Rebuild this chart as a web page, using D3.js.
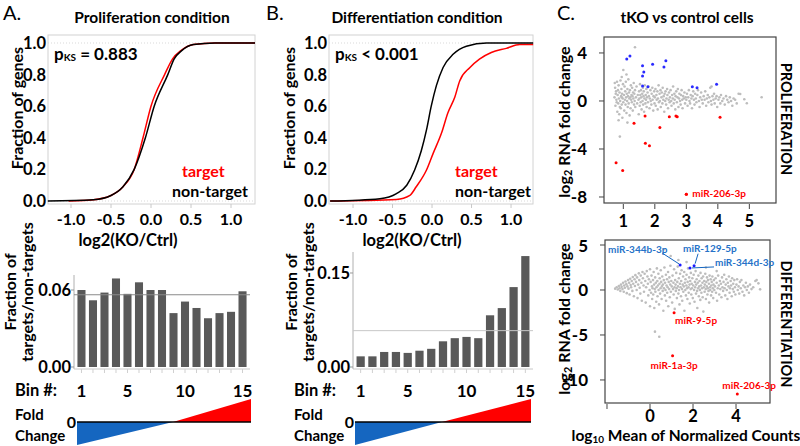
<!DOCTYPE html>
<html>
<head>
<meta charset="utf-8">
<script src="https://cdn.jsdelivr.net/npm/d3@7"></script>
<style>
  body { margin: 0; background: #fff; }
  svg text { font-family: Lato, "Open Sans", sans-serif; font-weight: 700; fill: #000; }
</style>
</head>
<body>
<svg id="fig" width="800" height="446"></svg>
<script>
// ---- data ----
const ecdfXTicks = [-1.0, -0.5, 0.0, 0.5, 1.0];
const ecdfYTicks = [0.0, 0.2, 0.4, 0.6, 0.8, 1.0];

// cumulative fraction curves [log2(KO/Ctrl), fraction]
const prolifNonTarget = [[-1.29,0],[-0.72,0.008],[-0.5,0.035],[-0.35,0.09],[-0.21,0.2],[-0.07,0.4],[0.04,0.6],[0.21,0.8],[0.29,0.9],[0.38,0.95],[0.53,0.99],[0.8,1],[1.3,1]];
const prolifTarget    = [[-1.03,0],[-0.72,0.008],[-0.5,0.035],[-0.35,0.09],[-0.21,0.2],[-0.1,0.4],[0.0,0.6],[0.17,0.8],[0.27,0.9],[0.37,0.95],[0.53,0.99],[0.8,1],[1.3,1]];
const diffNonTarget   = [[-1.29,0],[-0.66,0.015],[-0.45,0.047],[-0.32,0.1],[-0.22,0.196],[-0.135,0.32],[-0.07,0.45],[-0.01,0.6],[0.055,0.73],[0.14,0.845],[0.27,0.93],[0.435,0.98],[0.69,1],[1.28,1]];
const diffTarget      = [[-1.29,0],[-0.45,0.01],[-0.28,0.036],[-0.2,0.09],[-0.07,0.196],[0.013,0.3],[0.12,0.43],[0.2,0.557],[0.29,0.66],[0.35,0.76],[0.48,0.845],[0.6,0.898],[0.75,0.94],[0.94,0.966],[1.11,0.99],[1.28,0.99]];

const bins = [1,2,3,4,5,6,7,8,9,10,11,12,13,14,15];
const binTickLabels = [1, 5, 10, 15];
const prolifBinFrac = [0.060,0.052,0.058,0.069,0.057,0.066,0.060,0.060,0.042,0.051,0.046,0.038,0.042,0.043,0.059];
const diffBinFrac   = [0.017,0.017,0.024,0.024,0.0225,0.026,0.029,0.041,0.046,0.048,0.046,0.0825,0.094,0.1275,0.177];
const prolifRefFrac = 0.0563;
const diffRefFrac = 0.058;
const prolifBarTicks = [0.00, 0.06];
const diffBarTicks = [0.00, 0.15];
const foldChangeEnds = [-1, 1];

// MA plots [log10 mean count, log2 fold change]
const prolifXTicks = [1,2,3,4,5];
const prolifYTicks = [4,0,-4,-8];
const diffXTicks = [-2,0,2,4];
const diffXLabels = [0,2,4];
const diffYTicks = [5,0,-5,-10];

const prolifGray = [
[0.72,0.3],[0.74,1.1],[0.75,-0.4],[0.77,0.8],[0.78,0.1],[0.8,1.6],[0.81,-0.9],[0.82,0.5],[0.84,-0.2],[0.85,1.3],[0.86,0.2],[0.87,-1.1],[0.88,0.7],[0.9,0.0],[0.91,1.7],[0.92,-0.6],[0.93,0.4],[0.94,1.0],[0.95,-0.3],[0.96,0.6],[0.97,-1.4],[0.98,0.2],[0.99,1.4],[1.0,-0.1],[0.76,0.6],[0.83,0.9],[0.89,-0.5],[0.79,-0.1],[0.95,0.3],[0.73,1.5],
[1.02,0.5],[1.03,-0.8],[1.04,1.2],[1.05,0.1],[1.06,0.8],[1.07,-0.3],[1.08,1.6],[1.09,0.3],[1.1,-1.0],[1.11,0.6],[1.12,0.0],[1.13,1.0],[1.14,-0.5],[1.15,0.4],[1.16,1.8],[1.17,-0.2],[1.18,0.7],[1.19,0.2],[1.2,-1.2],[1.21,0.9],[1.22,0.3],[1.23,-0.6],[1.24,1.3],[1.25,0.1],[1.26,0.5],[1.27,-0.1],[1.28,1.1],[1.29,0.4],[1.3,-0.8],[1.31,0.7],[1.32,0.2],[1.33,1.5],[1.34,-0.3],[1.35,0.6],[1.36,0.0],[1.37,0.9],[1.38,-0.5],[1.4,0.3],[1.42,1.2],[1.44,-0.2],[1.46,0.5],[1.48,0.1],[1.49,-1.1],
[1.5,0.8],[1.51,0.2],[1.52,-0.4],[1.53,1.4],[1.54,0.5],[1.55,-0.1],[1.56,0.9],[1.57,0.3],[1.58,-0.7],[1.6,0.6],[1.61,0.0],[1.62,1.1],[1.63,-0.3],[1.64,0.4],[1.65,0.8],[1.66,-0.9],[1.67,0.2],[1.68,1.3],[1.7,-0.2],[1.71,0.5],[1.72,0.1],[1.73,1.0],[1.74,-0.5],[1.75,0.3],[1.77,0.7],[1.78,-0.1],[1.8,1.2],[1.81,0.4],[1.83,-0.6],[1.84,0.2],[1.86,0.9],[1.87,0.0],[1.89,-0.3],[1.9,0.6],[1.92,1.1],[1.93,0.1],[1.95,-0.8],[1.96,0.4],[1.98,0.8],[1.99,-0.2],
[2.0,0.3],[2.02,1.0],[2.03,-0.4],[2.05,0.5],[2.06,0.1],[2.08,0.8],[2.09,-0.7],[2.1,0.2],[2.12,1.3],[2.13,-0.1],[2.15,0.6],[2.16,0.0],[2.18,0.9],[2.19,-0.5],[2.21,0.3],[2.22,0.7],[2.24,-0.2],[2.25,1.1],[2.27,0.1],[2.28,0.4],[2.3,-0.9],[2.31,0.6],[2.33,0.0],[2.34,0.8],[2.36,-0.3],[2.37,0.2],[2.39,1.0],[2.4,0.5],[2.42,-0.6],[2.44,0.1],[2.45,0.7],[2.47,-0.1],[2.48,0.3],
[2.5,0.9],[2.52,0.0],[2.53,-0.4],[2.55,0.5],[2.57,0.2],[2.58,1.2],[2.6,-0.2],[2.62,0.6],[2.63,0.1],[2.65,-0.7],[2.66,0.4],[2.68,0.8],[2.7,-0.1],[2.72,0.3],[2.73,1.0],[2.75,-0.5],[2.77,0.2],[2.78,0.6],[2.8,0.0],[2.82,-0.3],[2.83,0.5],[2.85,0.9],[2.87,0.1],[2.88,-0.6],[2.9,0.4],[2.92,0.2],[2.94,0.7],[2.96,-0.2],[2.98,0.3],
[3.0,0.1],[3.02,0.6],[3.04,-0.4],[3.06,0.3],[3.08,0.9],[3.1,0.0],[3.12,-0.2],[3.14,0.5],[3.16,0.2],[3.18,-0.6],[3.2,0.4],[3.22,0.8],[3.24,0.1],[3.26,-0.3],[3.28,0.6],[3.3,0.2],[3.32,-0.1],[3.35,0.5],[3.37,0.9],[3.4,0.0],[3.42,-0.5],[3.44,0.3],[3.47,0.7],[3.49,0.1],
[3.52,-0.2],[3.55,0.4],[3.58,0.1],[3.6,0.8],[3.63,-0.4],[3.65,0.2],[3.68,0.5],[3.7,-0.1],[3.73,0.3],[3.76,1.1],[3.78,0.0],[3.8,-0.3],[3.83,0.4],[3.86,0.1],[3.88,0.6],[3.9,-0.2],[3.93,0.2],[3.96,0.4],[3.98,-0.5],
[4.02,0.1],[4.05,0.3],[4.08,-0.2],[4.1,0.5],[4.14,0.0],[4.18,0.2],[4.22,-0.3],[4.26,0.4],[4.3,0.1],[4.34,-0.1],[4.38,0.3],[4.42,0.0],[4.46,-0.4],[4.5,0.2],[4.55,0.1],[4.6,-0.2],[4.66,0.6],
[4.84,0.14],[4.92,-0.19],[5.39,0.31],[4.71,0.58],
[1.37,4.47],[1.0,2.58],[0.89,-2.97],[1.13,-1.8],[0.95,2.0],[1.1,2.2],[0.85,-1.6],[3.8,1.2]
];
const prolifUp = [[1.11,3.5],[1.21,3.75],[1.61,2.94],[1.65,2.42],[1.61,2.08],[1.93,3.06],[2.35,3.36],[2.29,2.83],[1.61,1.25],[1.78,1.19],[3.19,1.19],[3.34,1.11],[3.96,1.39]];
const prolifDown = [[0.77,-5.14],[0.98,-5.8],[1.34,-1.86],[1.70,-3.53],[1.83,-3.72],[1.69,-1.25],[2.16,-2.22],[2.46,-1.31],[2.67,-1.25],[2.71,-1.31],[4.07,-1.36],[3.0,-7.78]];
const prolifNamed = [{name: "miR-206-3p", x: 3.0, y: -7.78}];

const diffGray = [
[-1.62,0.15],[-1.55,0.3],[-1.5,0.05],[-1.45,0.45],[-1.42,0.2],[-1.38,-0.1],[-1.35,0.6],[-1.32,0.35],[-1.28,0.1],[-1.25,0.8],[-1.22,-0.2],[-1.2,0.5],[-1.17,0.25],[-1.14,0.95],[-1.1,0.65],[-1.08,-0.35],[-1.05,0.4],[-1.02,1.1],[-1.0,0.15],[-0.97,0.8],[-0.95,-0.5],[-0.92,1.25],[-0.9,0.55],[-0.88,0.3],[-0.85,1.0],[-0.82,-0.1],[-0.8,1.45],[-0.78,0.7],[-0.75,-0.7],[-0.72,1.2],[-0.7,0.45],[-0.68,1.65],[-0.65,0.9],[-0.62,0.0],[-0.6,1.4],[-0.58,-0.9],[-0.55,0.6],[-0.52,1.85],[-0.5,1.1],[-0.48,0.25],[-0.45,-0.4],[-0.43,1.6],[-0.4,0.8],[-0.38,-1.2],[-0.35,2.0],[-0.33,1.3],[-0.3,0.5],[-0.28,-0.2],[-0.25,1.8],[-0.22,1.0],[-0.2,-1.4],[-0.18,0.3],[-0.15,2.1],[-0.12,1.5],[-0.1,0.7],[-0.08,-0.6],[-0.05,1.2],[-0.02,0.0],[0.0,2.3],[0.0,-1.8],
[0.03,0.9],[0.05,-0.3],[0.07,1.6],[0.09,0.4],[0.1,-1.0],[0.12,0.2],[0.14,1.1],[0.15,-0.5],[0.17,2.0],[0.19,0.6],[0.2,-2.0],[0.22,0.1],[0.24,1.4],[0.25,-0.2],[0.27,0.8],[0.29,-1.3],[0.3,0.3],[0.32,2.4],[0.34,1.0],[0.35,-0.7],[0.37,0.5],[0.39,1.8],[0.4,0.0],[0.42,-1.6],[0.44,0.7],[0.45,1.3],[0.47,-0.4],[0.49,0.2],[0.5,2.2],[0.52,0.9],[0.54,-1.0],[0.55,0.4],[0.57,1.5],[0.59,-0.1],[0.6,0.6],[0.62,-2.3],[0.64,1.1],[0.65,0.2],[0.67,2.5],[0.69,-0.6],[0.7,0.8],[0.72,0.0],[0.74,1.7],[0.75,-1.2],[0.77,0.5],[0.79,1.2],[0.8,-0.3],[0.82,0.3],[0.84,2.0],[0.85,-1.8],[0.87,0.9],[0.89,0.1],[0.9,1.4],[0.92,-0.8],[0.94,0.6],[0.95,2.7],[0.97,-0.2],[0.99,1.0],
[1.01,0.4],[1.03,-1.4],[1.05,1.6],[1.07,0.1],[1.09,0.8],[1.1,-0.5],[1.12,2.3],[1.14,0.3],[1.15,-2.1],[1.17,1.1],[1.19,0.6],[1.2,-0.1],[1.22,1.9],[1.24,0.2],[1.25,-0.9],[1.27,0.9],[1.29,2.6],[1.3,0.4],[1.32,-0.4],[1.34,1.3],[1.35,0.0],[1.37,-1.6],[1.39,0.7],[1.4,1.8],[1.42,0.3],[1.44,-0.7],[1.45,1.0],[1.47,2.2],[1.49,0.1],[1.5,-1.2],[1.52,0.6],[1.54,1.5],[1.55,-0.2],[1.57,0.4],[1.59,2.0],[1.6,-2.3],[1.62,0.8],[1.64,0.0],[1.65,1.2],[1.67,-0.6],[1.69,0.5],[1.7,1.7],[1.72,0.2],[1.74,-1.0],[1.75,0.9],[1.77,2.4],[1.79,0.3],[1.8,-0.3],[1.82,1.4],[1.84,0.6],[1.85,-1.5],[1.87,1.0],[1.89,0.1],[1.9,1.9],[1.92,-0.5],[1.94,0.7],[1.95,0.2],[1.97,1.3],[1.99,-0.9],
[2.01,0.5],[2.03,1.7],[2.05,0.0],[2.07,-1.3],[2.09,0.9],[2.1,0.3],[2.12,2.1],[2.14,-0.4],[2.15,0.6],[2.17,1.2],[2.19,-0.1],[2.2,-2.0],[2.22,0.8],[2.24,0.2],[2.25,1.6],[2.27,-0.7],[2.29,0.4],[2.3,1.0],[2.32,0.0],[2.34,-1.1],[2.35,1.9],[2.37,0.5],[2.39,-0.3],[2.4,1.3],[2.42,0.2],[2.44,0.8],[2.45,-0.8],[2.47,1.5],[2.48,-2.4],[2.5,0.3],[2.52,1.0],[2.54,-0.2],[2.55,0.6],[2.57,1.8],[2.59,0.1],[2.6,-1.0],[2.62,0.9],[2.64,0.4],[2.65,1.4],[2.67,-0.5],[2.69,0.2],[2.7,1.1],[2.72,-0.1],[2.74,0.7],[2.75,-1.4],[2.77,1.6],[2.79,0.3],[2.8,0.0],[2.82,1.2],[2.84,-0.6],[2.85,0.5],[2.87,0.9],[2.89,-0.2],[2.9,1.5],[2.92,0.2],[2.94,-0.9],[2.95,0.6],[2.97,1.1],[2.99,0.0],
[3.02,0.4],[3.05,1.3],[3.07,-0.3],[3.1,0.8],[3.12,-1.2],[3.15,0.2],[3.17,1.6],[3.2,0.5],[3.22,-0.5],[3.25,1.0],[3.27,0.1],[3.3,0.7],[3.32,-0.8],[3.35,1.4],[3.37,0.3],[3.4,-0.1],[3.42,0.9],[3.45,1.7],[3.47,0.2],[3.5,-0.6],[3.52,0.6],[3.55,1.2],[3.57,0.0],[3.6,-1.0],[3.62,0.8],[3.65,0.4],[3.67,1.5],[3.7,-0.3],[3.72,0.2],[3.75,1.0],[3.77,0.5],[3.8,-0.7],[3.82,1.3],[3.85,0.1],[3.87,0.7],[3.9,-0.2],[3.92,1.1],[3.95,0.3],[3.97,-0.5],
[4.02,0.6],[4.05,1.2],[4.08,0.0],[4.12,0.4],[4.15,-0.4],[4.18,0.9],[4.22,0.2],[4.25,1.1],[4.3,-0.2],[4.34,0.5],[4.38,-0.6],[4.42,0.3],[4.46,0.8],[4.5,0.0],[4.55,0.4],[4.6,-0.3],[4.65,0.6],[4.72,0.1],[4.8,0.3],[4.9,1.0],[4.96,1.1],[5.04,0.74],[5.12,0.07],
[0.23,-4.63],[0.43,-5.19],[0.65,4.52],[0.96,3.78],[1.32,3.33],[1.7,3.1],[2.6,2.5],[3.1,2.1]
];
const diffNamed = [
  {name: "miR-344b-3p", x: 1.40, y: 2.78,  up: true},
  {name: "miR-129-5p",  x: 2.05, y: 2.70,  up: true},
  {name: "miR-344d-3p", x: 1.86, y: 2.45,  up: true},
  {name: "miR-9-5p",    x: 1.12, y: -2.52, up: false},
  {name: "miR-1a-3p",   x: 1.05, y: -7.3,  up: false},
  {name: "miR-206-3p",  x: 4.06, y: -11.56, up: false}
];

// ---- drawing ----
const svg = d3.select("#fig");
const RED = "#ff0000", BLUE = "#1566c0";

function txt(g, x, y, s, size, opt = {}) {
  const t = g.append("text")
    .attr("x", x).attr("y", y)
    .attr("text-anchor", opt.anchor || "start")
    .attr("dominant-baseline", "central")
    .style("font-size", size + "px")
    .text(s);
  if (opt.fill) t.style("fill", opt.fill);
  if (opt.weight) t.style("font-weight", opt.weight);
  if (opt.rotate) t.attr("transform", `rotate(${opt.rotate},${x},${y})`);
  return t;
}

// panel letters and titles
txt(svg, 3, 12, "A.", 20, {weight: 400});
txt(svg, 266, 12, "B.", 20, {weight: 400});
txt(svg, 557, 12, "C.", 20, {weight: 400});
txt(svg, 152, 17, "Proliferation condition", 15.5, {anchor: "middle"});
txt(svg, 417, 17, "Differentiation condition", 15.5, {anchor: "middle"});
txt(svg, 687, 17, "tKO vs control cells", 15.5, {anchor: "middle"});

function ecdfPanel(o) {
  const g = svg.append("g");
  const x = d3.scaleLinear().domain(o.xd).range([o.left, o.right]);
  const y = d3.scaleLinear().domain([0, 1]).range([201, 43]);

  g.append("rect").attr("x", o.left).attr("y", 35)
    .attr("width", o.right - o.left).attr("height", 169)
    .attr("fill", "none").attr("stroke", "#d2d2d2");
  [0, 1].forEach(v => g.append("line")
    .attr("x1", o.left).attr("x2", o.right).attr("y1", y(v)).attr("y2", y(v))
    .attr("stroke", "#d9d9d9").attr("stroke-dasharray", "1,2"));

  ecdfYTicks.forEach(v => txt(g, o.left - 2, y(v), v.toFixed(1), 16.5, {anchor: "end"}));
  ecdfXTicks.forEach(v => {
    g.append("line").attr("x1", x(v)).attr("x2", x(v)).attr("y1", 204).attr("y2", 208)
      .attr("stroke", "#c8c8c8");
    txt(g, x(v), 218.5, v.toFixed(1), 16, {anchor: "middle"});
  });
  txt(g, o.xLabelX, 239.5, "log2(KO/Ctrl)", 16.5, {anchor: "middle"});
  txt(g, o.yLabelX, 108, "Fraction of genes", 16, {anchor: "middle", rotate: -90});

  const line = d3.line().x(d => x(d[0])).y(d => y(d[1])).curve(d3.curveMonotoneX);
  g.append("path").datum(o.target).attr("d", line)
    .attr("fill", "none").attr("stroke", RED).attr("stroke-width", 1.5);
  g.append("path").datum(o.nonTarget).attr("d", line)
    .attr("fill", "none").attr("stroke", "#000").attr("stroke-width", 1.5);

  const p = txt(g, o.left + 6, 53, "p", 17);
  p.append("tspan").attr("dy", 4).style("font-size", "10px").text("KS");
  p.append("tspan").attr("dy", -4).text(o.pText);
  txt(g, o.tgtX, 170, "target", 16, {fill: RED});
  txt(g, o.nonX, 190, "non-target", 16);
}

function barPanel(o) {
  const g = svg.append("g");
  const x = d3.scaleBand().domain(bins).range([o.left, o.right]).padding(0.3);
  const y = d3.scaleLinear().domain([0, o.ymax]).range([367, o.top]);

  g.append("line").attr("x1", o.left).attr("x2", o.left).attr("y1", o.top).attr("y2", 369)
    .attr("stroke", "#b0b0b0");
  g.append("line").attr("x1", o.left).attr("x2", o.right).attr("y1", 369).attr("y2", 369)
    .attr("stroke", "#c8c8c8");
  bins.forEach(b => g.append("line")
    .attr("x1", x(b) + x.bandwidth() / 2).attr("x2", x(b) + x.bandwidth() / 2)
    .attr("y1", 369).attr("y2", 373).attr("stroke", "#d0d0d0"));

  o.ticks.forEach(v => {
    g.append("line").attr("x1", o.left - 3).attr("x2", o.left).attr("y1", y(v)).attr("y2", y(v))
      .attr("stroke", "#999");
    txt(g, o.left - 3, y(v), v.toFixed(2), 16.5, {anchor: "end"});
  });

  g.selectAll("rect.bar").data(o.values).enter().append("rect")
    .attr("class", "bar")
    .attr("x", (d, i) => x(bins[i])).attr("width", x.bandwidth())
    .attr("y", d => y(d)).attr("height", d => y(0) - y(d))
    .attr("fill", "#595959");

  g.append("line").attr("x1", o.left).attr("x2", o.right)
    .attr("y1", y(o.ref)).attr("y2", y(o.ref))
    .attr("stroke", o.refColor).attr("stroke-width", 1);

  txt(g, o.yLabelX, 292, "Fraction of", 16, {anchor: "middle", rotate: -90});
  txt(g, o.yLabelX + 17, 292, "targets/non-targets", 16, {anchor: "middle", rotate: -90});

  txt(g, o.binLabelX, 390, "Bin #:", 16.5);
  binTickLabels.forEach(b => txt(g, x(b) + x.bandwidth() / 2, 390, b, 17, {anchor: "middle"}));

  // fold change wedge
  const fx = d3.scaleLinear().domain([0, 1]).range([o.triL, o.triR]);
  const fy = d3.scaleLinear().domain([-1, 1]).range([445, 399]);
  const cross = fx(o.cross);
  g.append("polygon")
    .attr("points", [[fx(0), fy(0)], [fx(0), fy(foldChangeEnds[0])], [cross, fy(0)]].join(" "))
    .attr("fill", BLUE);
  g.append("polygon")
    .attr("points", [[cross, fy(0)], [fx(1), fy(foldChangeEnds[1])], [fx(1), fy(0)]].join(" "))
    .attr("fill", RED);
  g.append("line").attr("x1", fx(0)).attr("x2", fx(1)).attr("y1", fy(0)).attr("y2", fy(0))
    .attr("stroke", "#000").attr("stroke-width", 1.5);
  txt(g, fx(0) - 1, fy(0) - 1, "0", 16, {anchor: "end"});
  txt(g, o.binLabelX, 414, "Fold", 15);
  txt(g, o.binLabelX, 435, "Change", 15);
}

function maPanel(o) {
  const g = svg.append("g");
  const x = d3.scaleLinear().domain(o.xd).range([o.left, o.right]);
  const y = d3.scaleLinear().domain(o.yd).range([o.bottom, o.top]);

  g.append("rect").attr("x", o.left).attr("y", o.top)
    .attr("width", o.right - o.left).attr("height", o.bottom - o.top)
    .attr("fill", "none").attr("stroke", "#444").attr("stroke-width", 1.2);

  o.yTicks.forEach(v => {
    g.append("line").attr("x1", o.left - 5).attr("x2", o.left).attr("y1", y(v)).attr("y2", y(v))
      .attr("stroke", "#444");
    txt(g, o.left - 17, y(v), v, 17, {anchor: "end"});
  });
  o.xTicks.forEach(v => g.append("line").attr("x1", x(v)).attr("x2", x(v))
    .attr("y1", o.bottom + 1).attr("y2", o.bottom + 6).attr("stroke", "#444"));
  o.xLabels.forEach(v => txt(g, x(v), o.bottom + o.xLabelGap, v, 16.5, {anchor: "middle"}));

  g.selectAll("circle.gray").data(o.gray).enter().append("circle")
    .attr("class", "gray").attr("cx", d => x(d[0])).attr("cy", d => y(d[1]))
    .attr("r", 1.3).attr("fill", "#bdbdbd");
  g.selectAll("circle.up").data(o.up).enter().append("circle")
    .attr("class", "up").attr("cx", d => x(d[0])).attr("cy", d => y(d[1]))
    .attr("r", 1.5).attr("fill", "#2a2aff");
  g.selectAll("circle.down").data(o.down).enter().append("circle")
    .attr("class", "down").attr("cx", d => x(d[0])).attr("cy", d => y(d[1]))
    .attr("r", 1.5).attr("fill", RED);

  o.named.forEach((d, i) => {
    const px = x(d.x), py = y(d.y), off = o.offsets[i];
    g.append("circle").attr("cx", px).attr("cy", py).attr("r", 1.5)
      .attr("fill", d.up ? "#1a1aff" : RED);
    if (off.lead) {
      g.append("line").attr("x1", px + off.lead[0]).attr("y1", py + off.lead[1])
        .attr("x2", px + off.lead[2]).attr("y2", py + off.lead[3])
        .attr("stroke", BLUE).attr("stroke-width", 1);
    }
    txt(g, px + off.dx, py + off.dy, d.name, 10, {fill: d.up ? "#2672c8" : RED});
  });

  const yl = txt(g, 563, o.yLabelY, "", 16, {anchor: "middle", rotate: -90});
  yl.append("tspan").text("log");
  yl.append("tspan").attr("dy", 4).style("font-size", "11px").text("2");
  yl.append("tspan").attr("dy", -4).text(" RNA fold change");
  txt(g, 786, o.sideY, o.side, 14.5, {anchor: "middle", rotate: 90});
}

ecdfPanel({left: 48, right: 255, xd: [-1.2875, 1.3], xLabelX: 128, yLabelX: 16,
  target: prolifTarget, nonTarget: prolifNonTarget, pText: " = 0.883", tgtX: 182, nonX: 172});
ecdfPanel({left: 329, right: 533, xd: [-1.304, 1.278], xLabelX: 412, yLabelX: 288,
  target: diffTarget, nonTarget: diffNonTarget, pText: " < 0.001", tgtX: 455, nonX: 455});

barPanel({left: 74, right: 250, top: 275, ymax: 0.0717, ticks: prolifBarTicks, values: prolifBinFrac,
  ref: prolifRefFrac, refColor: "#8a8a8a", yLabelX: 9, binLabelX: 15, triL: 77, triR: 251, cross: 0.552});
barPanel({left: 353, right: 533, top: 252, ymax: 0.1835, ticks: diffBarTicks, values: diffBinFrac,
  ref: diffRefFrac, refColor: "#c8c8c8", yLabelX: 290, binLabelX: 294, triL: 355, triR: 531, cross: 0.494});

maPanel({left: 604, right: 776, top: 37, bottom: 203, xd: [0.387, 5.846], yd: [-8.5, 5.33],
  xTicks: prolifXTicks, xLabels: prolifXTicks, yTicks: prolifYTicks, xLabelGap: 18,
  gray: prolifGray, up: prolifUp, down: prolifDown, named: prolifNamed,
  offsets: [{dx: 6, dy: -1}], yLabelY: 122, side: "PROLIFERATION", sideY: 119});
maPanel({left: 605, right: 770, top: 240, bottom: 403, xd: [-2.093, 5.58], yd: [-12.56, 5.556],
  xTicks: diffXTicks, xLabels: diffXLabels, yTicks: diffYTicks, xLabelGap: 13,
  gray: diffGray, up: [], down: [], named: diffNamed,
  offsets: [
    {dx: -72, dy: -16, lead: [-18, -12, -1, -1]},
    {dx: -11, dy: -18, lead: [4, -12, 1, -2]},
    {dx: 25, dy: -6, lead: [24, -1, 2, 0]},
    {dx: 1, dy: 7}, {dx: -22, dy: 9}, {dx: -15, dy: -9}
  ], yLabelY: 319, side: "DIFFERENTIATION", sideY: 324});

const xl = txt(svg, 686, 435, "", 15.5, {anchor: "middle"});
xl.append("tspan").text("log");
xl.append("tspan").attr("dy", 4).style("font-size", "10px").text("10");
xl.append("tspan").attr("dy", -4).text(" Mean of Normalized Counts");
</script>
</body>
</html>
